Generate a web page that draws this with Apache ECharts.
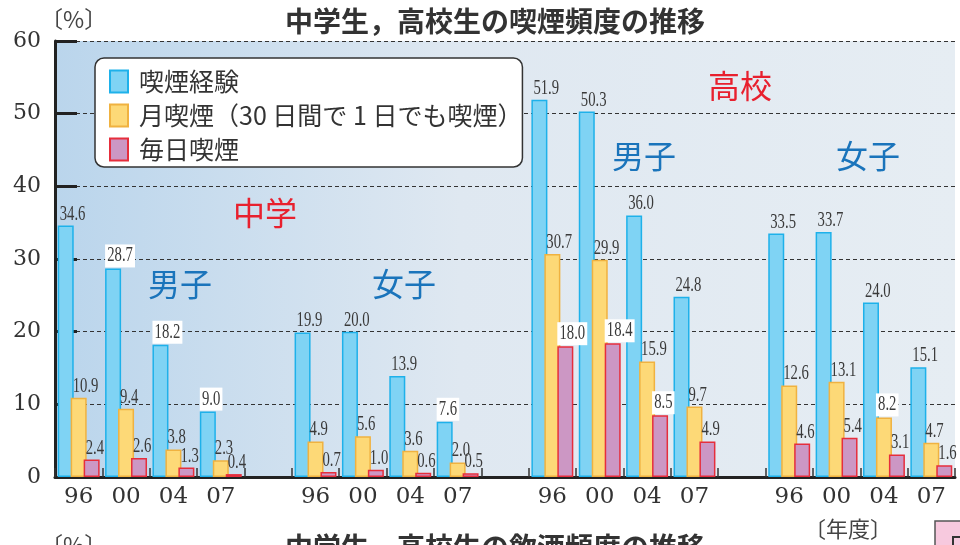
<!DOCTYPE html>
<html>
<head>
<meta charset="utf-8">
<script src="https://cdn.jsdelivr.net/npm/echarts@6/dist/echarts.min.js"></script>
<style>
html,body{margin:0;padding:0;background:#fff;}
#chart{width:960px;height:545px;}
</style>
</head>
<body>
<div id="chart"></div>
<script>
// ---- data ----
const categories = ['96','00','04','07','','96','00','04','07','','96','00','04','07','','96','00','04','07'];
const seriesNames = ['喫煙経験', '月喫煙（30 日間で 1 日でも喫煙）', '毎日喫煙'];
const experience = [34.6, 28.7, 18.2, 9.0, null, 19.9, 20.0, 13.9, 7.6, null, 51.9, 50.3, 36.0, 24.8, null, 33.5, 33.7, 24.0, 15.1];
const monthly    = [10.9, 9.4, 3.8, 2.3, null, 4.9, 5.6, 3.6, 2.0, null, 30.7, 29.9, 15.9, 9.7, null, 12.6, 13.1, 8.2, 4.7];
const daily      = [2.4, 2.6, 1.3, 0.4, null, 0.7, 1.0, 0.6, 0.5, null, 18.0, 18.4, 8.5, 4.9, null, 4.6, 5.4, 3.1, 1.6];
const yTicks = [0, 10, 20, 30, 40, 50, 60];

// ---- styles ----
const fills   = ['#7fd3f4', '#fdd977', '#cc97c4'];
const borders = ['#1eb1ea', '#f0b240', '#e62e3c'];
const BAR_W = 16, BAR_GAP = -0.19;
const step = BAR_W * (1 + BAR_GAP);

const chart = echarts.init(document.getElementById('chart'), null, {renderer: 'canvas'});

const allSeries = [experience, monthly, daily];
const barSeries = allSeries.map((arr, k) => ({
  name: seriesNames[k],
  type: 'bar',
  data: arr.map(v => v == null ? '-' : v),
  barWidth: BAR_W,
  barGap: (BAR_GAP * 100) + '%',
  itemStyle: {color: fills[k], borderColor: borders[k], borderWidth: 1.5},
  z: 3,
  silent: true
}));

const labelData = [];
allSeries.forEach((arr, k) => arr.forEach((v, i) => { if (v != null) labelData.push([i, v, k]); }));

const labelSeries = {
  type: 'custom',
  name: 'labels',
  coordinateSystem: 'cartesian2d',
  data: labelData,
  z: 10,
  silent: true,
  renderItem: function (params, api) {
    const i = api.value(0), v = api.value(1), k = api.value(2);
    const pt = api.coord([i, v]);
    const left = pt[0] + (k - 1) * step - BAR_W / 2 + 2;
    let boxed = false;
    for (const m of yTicks) { if (m > v + 0.7 && m < v + 2.5) boxed = true; }
    const style = {
      text: v.toFixed(1),
      font: '21px "Liberation Serif", "DejaVu Serif", serif',
      fill: '#3a3a3a',
      align: 'left',
      verticalAlign: 'bottom'
    };
    if (boxed) { style.backgroundColor = '#ffffff'; style.padding = [1, 3, 1, 3]; }
    return {
      type: 'text',
      x: boxed ? left - 2 : left,
      y: pt[1] - 1,
      scaleX: 0.7,
      style: style
    };
  }
};

const cjk = '"Noto Sans CJK JP", "Noto Sans CJK SC", sans-serif';

const option = {
  animation: false,
  backgroundColor: '#ffffff',
  grid: {
    left: 55, right: 5, top: 41, bottom: 68,
    show: true,
    borderWidth: 0,
    backgroundColor: new echarts.graphic.LinearGradient(0, 0, 1, 0, [
      {offset: 0, color: '#bad5ec'},
      {offset: 0.45, color: '#dfe8f1'},
      {offset: 1, color: '#e6edf3'}
    ])
  },
  legend: {
    data: seriesNames,
    left: 95, top: 58,
    orient: 'vertical',
    icon: 'rect',
    itemWidth: 18, itemHeight: 22, itemGap: 9,
    backgroundColor: '#ffffff',
    borderColor: '#333333', borderWidth: 1.5, borderRadius: 9,
    padding: [11, 0, 5, 14],
    textStyle: {fontFamily: cjk, fontSize: 25, color: '#333333', padding: [0, 0, 0, 6]},
    selectedMode: false
  },
  xAxis: {
    type: 'category',
    data: categories,
    axisLine: {lineStyle: {color: '#222222', width: 3}},
    axisTick: {show: true, inside: true, length: 9, lineStyle: {color: '#333333', width: 1.5}},
    axisLabel: {fontFamily: '"DejaVu Serif", serif', fontSize: 23, color: '#333333', margin: 9, interval: 0},
    splitLine: {show: false}
  },
  yAxis: {
    type: 'value',
    min: 0, max: 60, interval: 10,
    axisLine: {show: true, lineStyle: {color: '#222222', width: 3}},
    axisTick: {show: true, inside: true, length: 22, lineStyle: {color: '#222222', width: 3}},
    axisLabel: {fontFamily: '"DejaVu Serif", serif', fontSize: 22, color: '#333333', margin: 14},
    splitLine: {show: true, lineStyle: {color: '#333333', width: 1.2, type: [4, 3]}}
  },
  series: barSeries.concat([labelSeries]),
  graphic: [
    {type: 'text', x: 495, y: 7, style: {text: '中学生，高校生の喫煙頻度の推移', font: 'bold 28px ' + cjk, fill: '#333333', align: 'center', verticalAlign: 'top'}},
    {type: 'text', x: 40, y: 8, style: {text: '〔%〕', font: '23px ' + cjk, fill: '#444444', align: 'left', verticalAlign: 'top'}},
    {type: 'text', x: 265, y: 213, style: {text: '中学', font: '32px ' + cjk, fill: '#e8202e', align: 'center', verticalAlign: 'middle'}},
    {type: 'text', x: 740, y: 86, style: {text: '高校', font: '32px ' + cjk, fill: '#e8202e', align: 'center', verticalAlign: 'middle'}},
    {type: 'text', x: 180, y: 284, style: {text: '男子', font: '32px ' + cjk, fill: '#1a74bb', align: 'center', verticalAlign: 'middle'}},
    {type: 'text', x: 404, y: 284, style: {text: '女子', font: '32px ' + cjk, fill: '#1a74bb', align: 'center', verticalAlign: 'middle'}},
    {type: 'text', x: 644, y: 156, style: {text: '男子', font: '32px ' + cjk, fill: '#1a74bb', align: 'center', verticalAlign: 'middle'}},
    {type: 'text', x: 868, y: 156, style: {text: '女子', font: '32px ' + cjk, fill: '#1a74bb', align: 'center', verticalAlign: 'middle'}},
    {type: 'text', x: 848, y: 529, style: {text: '〔年度〕', font: '22px ' + cjk, fill: '#444444', align: 'center', verticalAlign: 'middle'}},
    {type: 'rect', shape: {x: 935, y: 521, width: 40, height: 40}, style: {fill: '#f7c9de', stroke: '#555555', lineWidth: 1.5}},
    {type: 'rect', shape: {x: 953, y: 537, width: 30, height: 30}, style: {fill: 'none', stroke: '#333333', lineWidth: 2}},
    {type: 'text', x: 495, y: 533, style: {text: '中学生，高校生の飲酒頻度の推移', font: 'bold 28px ' + cjk, fill: '#333333', align: 'center', verticalAlign: 'top'}},
    {type: 'text', x: 40, y: 534, style: {text: '〔%〕', font: '23px ' + cjk, fill: '#444444', align: 'left', verticalAlign: 'top'}}
  ]
};

chart.setOption(option);
</script>
</body>
</html>
